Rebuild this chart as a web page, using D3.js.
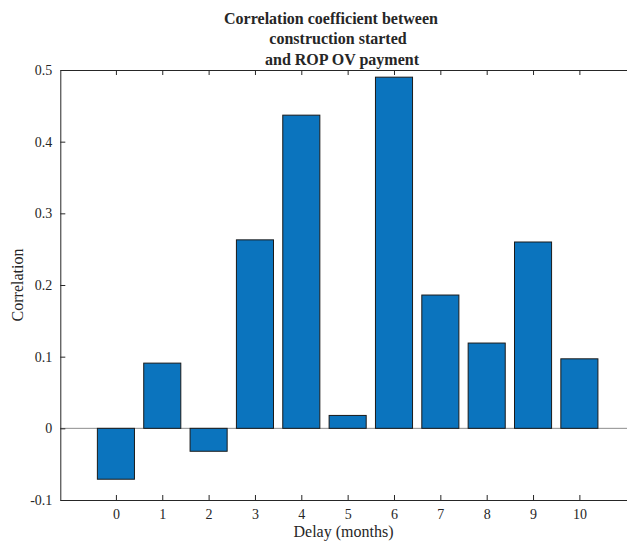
<!DOCTYPE html>
<html>
<head>
<meta charset="utf-8">
<script src="https://cdn.jsdelivr.net/npm/d3@7"></script>
<style>
  body { margin: 0; background: #fff; }
  text { font-family: "Liberation Serif", "Times New Roman", serif; fill: #262626; }
</style>
</head>
<body>
<svg width="627" height="543"></svg>
<script>
var delays = [0, 1, 2, 3, 4, 5, 6, 7, 8, 9, 10];
var correlation = [-0.071, 0.091, -0.032, 0.263, 0.437, 0.018, 0.490, 0.186, 0.119, 0.260, 0.097];
var yTicks = [-0.1, 0, 0.1, 0.2, 0.3, 0.4, 0.5];
var titleLines = ["Correlation coefficient between", "construction started", "and ROP OV payment"];

var svg = d3.select("svg"),
  plotLeft = 60.3, plotRight = 635, plotTop = 70, plotBottom = 500,
  midX = 343.5;

var x = d3.scaleLinear().domain([-1.2, 11.2]).range([plotLeft, plotRight]);
var y = d3.scaleLinear().domain([-0.1, 0.5]).range([plotBottom, plotTop]);
var bw = (x(1) - x(0)) * 0.8;

// zero baseline
svg.append("line")
  .attr("x1", plotLeft).attr("x2", plotRight)
  .attr("y1", y(0)).attr("y2", y(0))
  .attr("stroke", "#8c8c8c").attr("stroke-width", 1);

svg.selectAll("rect.bar")
  .data(correlation)
  .enter().append("rect")
  .attr("class", "bar")
  .attr("x", function (d, i) { return x(delays[i]) - bw / 2; })
  .attr("width", bw)
  .attr("y", function (d) { return y(Math.max(d, 0)); })
  .attr("height", function (d) { return Math.abs(y(d) - y(0)); })
  .attr("fill", "#0b74be")
  .attr("stroke", "#1a1a1a")
  .attr("stroke-width", 1);

// axes
var xAxis = svg.append("g").attr("transform", "translate(0," + plotBottom + ")")
  .call(d3.axisBottom(x).tickValues(delays).tickSizeInner(-5).tickSizeOuter(0).tickPadding(9).tickFormat(d3.format("d")));
var xTop = svg.append("g").attr("transform", "translate(0," + plotTop + ")")
  .call(d3.axisTop(x).tickValues(delays).tickSizeInner(-5).tickSizeOuter(0).tickFormat(""));
var yAxis = svg.append("g").attr("transform", "translate(" + plotLeft + ",0)")
  .call(d3.axisLeft(y).tickValues(yTicks).tickSizeInner(-5).tickSizeOuter(0).tickPadding(8)
    .tickFormat(function (d) { return d === 0 ? "0" : String(+d.toFixed(1)); }));

[xAxis, xTop, yAxis].forEach(function (a) {
  a.select(".domain").attr("stroke", "#262626").attr("stroke-width", 1);
  a.selectAll(".tick line").attr("stroke", "#262626");
  a.selectAll(".tick text").attr("font-size", 14).attr("fill", "#262626")
    .attr("font-family", "Liberation Serif");
});

svg.append("text")
  .attr("x", midX).attr("y", 537)
  .attr("text-anchor", "middle").attr("font-size", 16)
  .text("Delay (months)");

svg.append("text")
  .attr("transform", "translate(23," + (plotTop + plotBottom) / 2 + ") rotate(-90)")
  .attr("text-anchor", "middle").attr("font-size", 16)
  .text("Correlation");

// title lines are not quite centred in the original
var titleX = [331, 338, 342];
svg.append("text")
  .attr("text-anchor", "middle").attr("font-size", 16).attr("font-weight", "bold")
  .selectAll("tspan")
  .data(titleLines)
  .enter().append("tspan")
  .attr("x", function (d, i) { return titleX[i]; })
  .attr("y", function (d, i) { return 24 + i * 20.3; })
  .text(function (d) { return d; });
</script>
</body>
</html>
